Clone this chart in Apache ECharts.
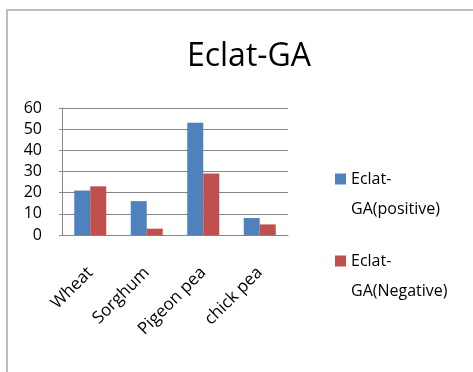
<!DOCTYPE html>
<html>
<head>
<meta charset="utf-8">
<script src="https://cdn.jsdelivr.net/npm/echarts@6/dist/echarts.min.js"></script>
<style>
  html, body { margin: 0; padding: 0; background: #fff; }
  #chart { width: 473px; height: 372px; }
</style>
</head>
<body>
<div id="chart"></div>
<script>
// Crop categories and the two rule-count series
const categories = ['Wheat', 'Sorghum', 'Pigeon pea', 'chick pea'];
const positiveValues = [21, 16, 53, 8];
const negativeValues = [23, 3, 29, 5];
const seriesNames = ['Eclat-GA(positive)', 'Eclat-GA(Negative)'];
const yTicks = { min: 0, max: 60, interval: 10 };

const font = 'Open Sans';
const chart = echarts.init(document.getElementById('chart'), null, { renderer: 'canvas' });

// Square swatch at the top of a taller box, so it lines up with the
// first of the two wrapped legend lines
const swatch = 'path://M0,0H11V11H0Z M0,41H11Z';

function legendFor(name, top) {
  return {
    data: [name],
    orient: 'vertical',
    left: 330,
    top: top,
    itemWidth: 11,
    itemHeight: 41,
    itemGap: 0,
    icon: swatch,
    formatter: n => n.replace('-', '-\n'),
    textStyle: {
      fontFamily: font,
      fontSize: 16,
      color: '#000',
      lineHeight: 30
    }
  };
}

chart.setOption({
  animation: false,
  backgroundColor: '#fff',
  title: {
    text: 'Eclat-GA',
    left: 244,
    textAlign: 'center',
    top: 36,
    textStyle: { fontFamily: font, fontSize: 32, fontWeight: 'normal', color: '#000' }
  },
  legend: [legendFor(seriesNames[0], 159), legendFor(seriesNames[1], 241)],
  grid: { left: 62, right: 185, top: 108, bottom: 137 },
  xAxis: {
    type: 'category',
    data: categories,
    axisLine: { lineStyle: { color: '#868686', width: 1 } },
    axisTick: { show: false },
    axisLabel: {
      rotate: 45,
      margin: 35,
      fontFamily: font,
      fontSize: 17,
      color: '#000',
      interval: 0
    }
  },
  yAxis: {
    type: 'value',
    min: yTicks.min,
    max: yTicks.max,
    interval: yTicks.interval,
    axisLine: { show: true, lineStyle: { color: '#868686', width: 1 } },
    axisTick: { show: true, length: 3, lineStyle: { color: '#868686' } },
    splitLine: { lineStyle: { color: '#868686', width: 1 } },
    axisLabel: { fontFamily: font, fontSize: 16, color: '#000', margin: 20 }
  },
  series: [
    {
      name: seriesNames[0],
      type: 'bar',
      data: positiveValues,
      barWidth: 16,
      barGap: '0%',
      itemStyle: { color: '#4F81BD' }
    },
    {
      name: seriesNames[1],
      type: 'bar',
      data: negativeValues,
      barWidth: 16,
      barGap: '0%',
      itemStyle: { color: '#C0504D' }
    }
  ],
  graphic: [
    {
      type: 'rect',
      silent: true,
      shape: { x: 7, y: 10, width: 520, height: 420 },
      style: { fill: 'none', stroke: '#bcbcbc', lineWidth: 2 }
    }
  ]
});
</script>
</body>
</html>
